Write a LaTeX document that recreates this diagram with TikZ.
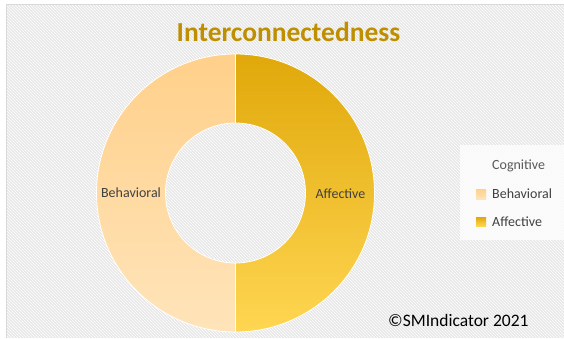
\documentclass[tikz,border=0pt]{standalone}
\usepackage{fontspec}
\setmainfont{Carlito}
\usepackage{tikz}
\usetikzlibrary{patterns}
\definecolor{titlegold}{HTML}{BF8F00}
\definecolor{behavtop}{HTML}{FFD08A}
\definecolor{behavbot}{HTML}{FFE4BA}
\definecolor{afftop}{HTML}{E0A80A}
\definecolor{affbot}{HTML}{FFD652}
\definecolor{labelgray}{HTML}{404040}
\definecolor{legendgray}{HTML}{595959}
\definecolor{framegray}{HTML}{D9D9D9}
\definecolor{hatchgray}{HTML}{E8E8E8}
\tikzset{
    seglabel/.style={text = labelgray, font = \fontsize{14}{16}\selectfont, inner sep = 0pt},
    legendtext/.style={text = labelgray, font = \fontsize{14}{16}\selectfont, anchor = west, inner sep = 0pt},
    segment/.style={draw = white, line width = 0.8pt},
}

\begin{document}
\begin{tikzpicture}[x = 1pt, y = 1pt]
\useasboundingbox (0,0) rectangle (564,338);
\fill[white] (0,0) rectangle (564,338);
% chart area
\fill[hatchgray] (6,0) rectangle (564,333.5);
\fill[pattern = north west lines, pattern color = white] (6,0) rectangle (564,333.5);
\draw[framegray, line width = 1pt] (6,0) -- (6,333.5) -- (564,333.5);
\node[text = titlegold, font = \bfseries\fontsize{27.5}{30}\selectfont] (title) at (288.5,306) {Interconnectedness};
% doughnut
\coordinate (c) at (235.5,145);
\shade[segment, top color = behavtop, bottom color = behavbot] (235.5,284) arc[start angle = 90, end angle = 270, radius = 139] -- (235.5,75) arc[start angle = 270, end angle = 90, radius = 70] -- cycle;
\shade[segment, top color = afftop, bottom color = affbot] (235.5,284) arc[start angle = 90, end angle = -90, radius = 139] -- (235.5,75) arc[start angle = -90, end angle = 90, radius = 70] -- cycle;
\node[seglabel] (behav) at (131,145) {Behavioral};
\node[seglabel] (aff) at (340.5,144) {Affective};
% legend
\fill[white, opacity = 0.75] (460,98) rectangle (564,193);
\node[legendtext, text = legendgray] (cog) at (492,172) {Cognitive};
\shade[top color = behavtop, bottom color = behavbot] (476,139) rectangle (486,149);
\node[legendtext] (legbehav) at (492,144) {Behavioral};
\shade[top color = afftop, bottom color = affbot] (476,112) rectangle (486,121);
\node[legendtext] (legaff) at (492,116.5) {Affective};
\node[anchor = base west, font = \fontsize{17.5}{20}\selectfont, inner sep = 0pt] (copy) at (388,12) {©SMIndicator 2021};
\end{tikzpicture}
\end{document}
